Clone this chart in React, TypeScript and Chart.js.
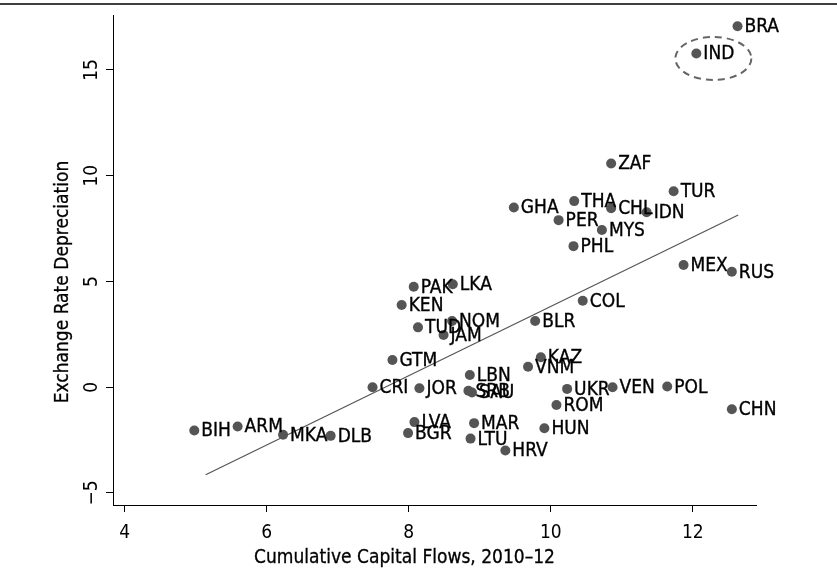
import { useEffect, useRef } from "react";
import { Chart, registerables } from "chart.js";

Chart.register(...registerables);

const countries = [
  "BRA", "IND", "ZAF", "TUR", "THA", "CHL", "IDN", "GHA", "PER", "MYS",
  "PHL", "MEX", "RUS", "PAK", "LKA", "KEN", "COL", "BLR", "TUD", "NOM",
  "JAM", "GTM", "KAZ", "VNM", "LBN", "CRI", "JOR", "SRB", "SAU", "UKR",
  "VEN", "POL", "ROM", "CHN", "LVA", "BGR", "MAR", "LTU", "HRV", "HUN",
  "BIH", "ARM", "MKA", "DLB",
];

const capitalFlows = [
  12.63, 12.05, 10.85, 11.73, 10.33, 10.85, 11.35, 9.48, 10.11, 10.72,
  10.32, 11.87, 12.55, 8.07, 8.62, 7.9, 10.45, 9.78, 8.13, 8.61,
  8.49, 7.77, 9.86, 9.68, 8.86, 7.49, 8.15, 8.84, 8.89, 10.23,
  10.87, 11.64, 10.08, 12.55, 8.08, 7.99, 8.92, 8.87, 9.36, 9.91,
  4.98, 5.59, 6.23, 6.9,
];

const depreciation = [
  17.07, 15.78, 10.58, 9.27, 8.8, 8.46, 8.27, 8.5, 7.9, 7.43,
  6.67, 5.78, 5.46, 4.75, 4.87, 3.89, 4.09, 3.13, 2.83, 3.13,
  2.47, 1.29, 1.42, 0.97, 0.58, 0.0, -0.05, -0.17, -0.25, -0.08,
  0.0, 0.03, -0.84, -1.04, -1.65, -2.17, -1.7, -2.43, -2.99, -1.94,
  -2.05, -1.86, -2.25, -2.3,
];

const fitX = [5.14, 12.64];
const fitY = [-4.14, 8.14];

const xTicks = [4, 6, 8, 10, 12];
const yTicks = [-5, 0, 5, 10, 15];

const xTitle = "Cumulative Capital Flows, 2010\u201312";
const yTitle = "Exchange Rate Depreciation";
const highlighted = "IND";

const FONT = '"DejaVu Sans Condensed", "Liberation Sans Narrow", sans-serif';

const extras = {
  id: "extras",
  beforeDraw(chart: any) {
    const ctx = chart.ctx;
    ctx.save();
    ctx.strokeStyle = "#000";
    ctx.lineWidth = 1.3;
    ctx.beginPath();
    ctx.moveTo(0, 4);
    ctx.lineTo(chart.width, 4);
    ctx.stroke();
    ctx.restore();
  },
  afterDatasetsDraw(chart: any) {
    const ctx = chart.ctx;
    const meta = chart.getDatasetMeta(1);
    ctx.save();
    ctx.font = `19px ${FONT}`;
    ctx.fillStyle = "#000";
    ctx.strokeStyle = "#000";
    ctx.lineWidth = 0.35;
    ctx.textBaseline = "middle";
    ctx.textAlign = "left";
    meta.data.forEach((el: any, i: number) => {
      ctx.fillText(countries[i], el.x + 7, el.y + 1);
      ctx.strokeText(countries[i], el.x + 7, el.y + 1);
    });
    const hi = countries.indexOf(highlighted);
    if (hi >= 0) {
      const el = meta.data[hi];
      ctx.strokeStyle = "#666";
      ctx.lineWidth = 2;
      ctx.setLineDash([7, 5]);
      ctx.beginPath();
      ctx.ellipse(el.x + 17, el.y + 5, 38, 21.5, 0, 0, Math.PI * 2);
      ctx.stroke();
      ctx.setLineDash([]);
    }
    const area = chart.chartArea;
    ctx.font = `19px ${FONT}`;
    ctx.textAlign = "center";
    ctx.textBaseline = "middle";
    ctx.strokeStyle = "#000";
    ctx.lineWidth = 0.3;
    const xt = (area.left + area.right) / 2 - 30;
    ctx.fillText(xTitle, xt, 558);
    ctx.strokeText(xTitle, xt, 558);
    ctx.translate(63, (area.top + area.bottom) / 2 + 22);
    ctx.rotate(-Math.PI / 2);
    ctx.fillText(yTitle, 0, 0);
    ctx.strokeText(yTitle, 0, 0);
    ctx.restore();
  },
};

export default function App() {
  const ref = useRef<HTMLCanvasElement | null>(null);

  useEffect(() => {
    if (!ref.current) return;
    const chart = new Chart(ref.current, {
      type: "scatter",
      data: {
        datasets: [
          {
            type: "line",
            data: fitX.map((x, i) => ({ x, y: fitY[i] })),
            borderColor: "#555",
            borderWidth: 1.2,
            pointRadius: 0,
            fill: false,
            order: 2,
          } as any,
          {
            data: capitalFlows.map((x, i) => ({ x, y: depreciation[i] })),
            backgroundColor: "#555555",
            borderWidth: 0,
            pointRadius: 5,
            pointHoverRadius: 5,
            order: 1,
          },
        ],
      },
      options: {
        animation: false,
        responsive: false,
        devicePixelRatio: 1,
        layout: { padding: { left: 0, right: 81, top: 15, bottom: 0 } },
        plugins: { legend: { display: false }, tooltip: { enabled: false } },
        scales: {
          x: {
            type: "linear",
            min: 3.835,
            max: 12.89,
            afterBuildTicks: (scale: any) => {
              scale.ticks = xTicks.map((v) => ({ value: v }));
            },
            afterFit: (scale: any) => {
              scale.height = 69;
            },
            grid: { drawOnChartArea: false, drawTicks: true, tickLength: 7, color: "#000", lineWidth: 1 },
            border: { display: true, color: "#000", width: 1 },
            ticks: {
              color: "#000",
              font: { family: FONT, size: 19 },
              padding: 10,
              maxRotation: 0,
              callback: (v: any) => String(v),
            },
          },
          y: {
            type: "linear",
            min: -5.57,
            max: 17.6,
            afterBuildTicks: (scale: any) => {
              scale.ticks = yTicks.map((v) => ({ value: v }));
            },
            afterFit: (scale: any) => {
              scale.width = 113;
            },
            grid: { drawOnChartArea: false, drawTicks: true, tickLength: 7, color: "#000", lineWidth: 1 },
            border: { display: true, color: "#000", width: 1 },
            ticks: {
              color: "#000",
              font: { family: FONT, size: 19 },
              padding: 1,
              minRotation: 90,
              maxRotation: 90,
              crossAlign: "center",
              callback: (v: any) => (v < 0 ? "\u2212" + Math.abs(v) : String(v)),
            },
          },
        },
      },
      plugins: [extras],
    });
    return () => chart.destroy();
  }, []);

  return (
    <div style={{ position: "fixed", left: 0, top: 0, width: 837, height: 574, background: "#fff" }}>
      <canvas ref={ref} width={837} height={574} />
    </div>
  );
}
